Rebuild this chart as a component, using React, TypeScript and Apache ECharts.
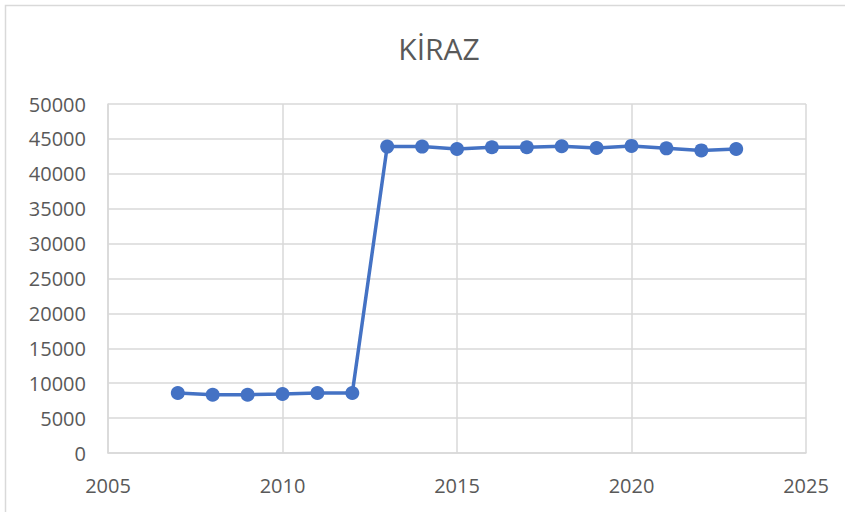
import React, { useEffect, useRef } from "react";
import * as echarts from "echarts";

const years = [2007, 2008, 2009, 2010, 2011, 2012, 2013, 2014, 2015, 2016, 2017, 2018, 2019, 2020, 2021, 2022, 2023];
const values = [8600, 8350, 8350, 8450, 8600, 8600, 43900, 43900, 43550, 43800, 43800, 43950, 43700, 44000, 43650, 43350, 43550];
const titleText = "KİRAZ";

export default function App() {
  const ref = useRef<HTMLDivElement>(null);
  useEffect(() => {
    if (!ref.current) return;
    const chart = echarts.init(ref.current, undefined, { renderer: "svg" });
    const font = "'Open Sans', 'Liberation Sans', sans-serif";
    const plain = (v: number) => String(v);
    chart.setOption({
      animation: false,
      backgroundColor: "#ffffff",
      title: {
        text: titleText,
        left: 434,
        top: 28,
        textAlign: "center",
        textStyle: { fontFamily: font, fontSize: 30, fontWeight: "normal", color: "#595959" },
      },
      graphic: [
        {
          type: "rect",
          shape: { x: 5.5, y: 5.5, width: 860, height: 530 },
          style: { fill: "none", stroke: "#d9d9d9", lineWidth: 1.5 },
          silent: true,
        },
      ],
      grid: { left: 108, right: 39, top: 104, bottom: 59 },
      xAxis: {
        type: "value",
        min: 2005,
        max: 2025,
        interval: 5,
        axisLine: { show: true, lineStyle: { color: "#d9d9d9", width: 1.5 } },
        axisTick: { show: false },
        splitLine: { show: true, lineStyle: { color: "#d9d9d9", width: 1.5 } },
        axisLabel: { fontFamily: font, fontSize: 20, color: "#595959", margin: 22, formatter: plain },
      },
      yAxis: {
        type: "value",
        min: 0,
        max: 50000,
        interval: 5000,
        axisLine: { show: true, lineStyle: { color: "#d9d9d9", width: 1.5 } },
        axisTick: { show: false },
        splitLine: { show: true, lineStyle: { color: "#d9d9d9", width: 1.5 } },
        axisLabel: { fontFamily: font, fontSize: 20, color: "#595959", margin: 22, formatter: plain },
      },
      series: [
        {
          type: "line",
          data: years.map((y, i) => [y, values[i]]),
          symbol: "circle",
          symbolSize: 14,
          lineStyle: { color: "#4472C4", width: 3.5 },
          itemStyle: { color: "#4472C4" },
        },
      ],
    });
    return () => chart.dispose();
  }, []);
  return (
    <div
      ref={ref}
      style={{ position: "absolute", left: 0, top: 0, width: 845, height: 512 }}
    />
  );
}
